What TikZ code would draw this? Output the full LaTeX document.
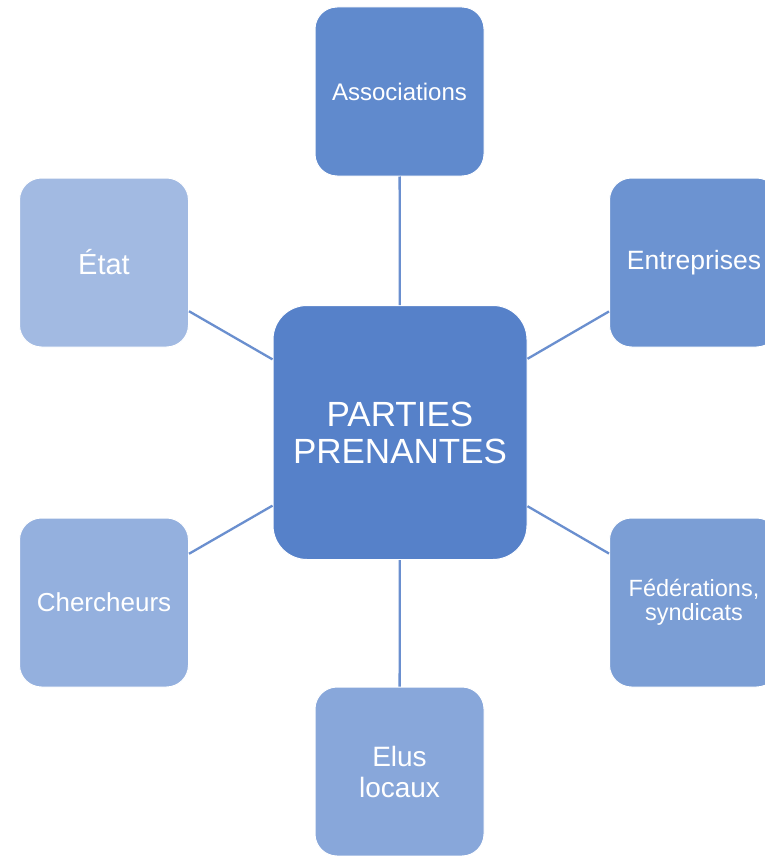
\documentclass[tikz,border=0pt]{standalone}
\usepackage{fontspec}
\setmainfont{Liberation Sans}
\begin{document}
\begin{tikzpicture}[x=1pt, y=-1pt,
    hub/.style = {fill=hubblue, draw=white, line width=1pt, rounded corners=34pt,
        minimum width=254pt, minimum height=254pt, inner sep=0pt,
        text=white, align=center, font=\fontsize{35}{37}\selectfont},
    leaf/.style = {draw=white, line width=1pt, rounded corners=22pt,
        minimum width=169pt, minimum height=169pt, inner sep=0pt,
        text=white, align=center, font=\fontsize{24}{27}\selectfont},
    spoke/.style = {draw=spokeblue, line width=2.3pt}]
        \definecolor{hubblue}{HTML}{5681C9}
        \definecolor{spokeblue}{HTML}{6A8FCF}
        \clip (0, 0) rectangle (765, 856);
        \fill [white] (0, 0) rectangle (765, 856);
        % centre
        \node [hub] (parties) at (400, 432.5) {PARTIES\\PRENANTES};
        % around it
        \node [leaf, fill={rgb,255:red,96;green,138;blue,205}] (assoc) at (399.5, 91.5) {Associations};
        \node [leaf, fill={rgb,255:red,108;green,147;blue,209}, font=\fontsize{26.5}{29}\selectfont] (entrep) at (694, 262.5) {Entreprises};
        \node [leaf, fill={rgb,255:red,123;green,158;blue,213}, font=\fontsize{23.5}{23.5}\selectfont] (feder) at (694, 602.5) {Fédérations,\\syndicats};
        \node [leaf, fill={rgb,255:red,136;green,167;blue,218}, font=\fontsize{28}{31}\selectfont] (elus) at (399.5, 771.5) {Elus\\locaux};
        \node [leaf, fill={rgb,255:red,148;green,176;blue,222}, font=\fontsize{26}{29}\selectfont] (cherch) at (104, 602.5) {Chercheurs};
        \node [leaf, fill={rgb,255:red,162;green,186;blue,226}, font=\fontsize{29}{32}\selectfont] (etat) at (104, 262.5) {État};
        % spokes
        \foreach \leafname in {assoc, entrep, feder, elus, cherch, etat}
            \draw [spoke] (parties) -- (\leafname);
\end{tikzpicture}
\end{document}
